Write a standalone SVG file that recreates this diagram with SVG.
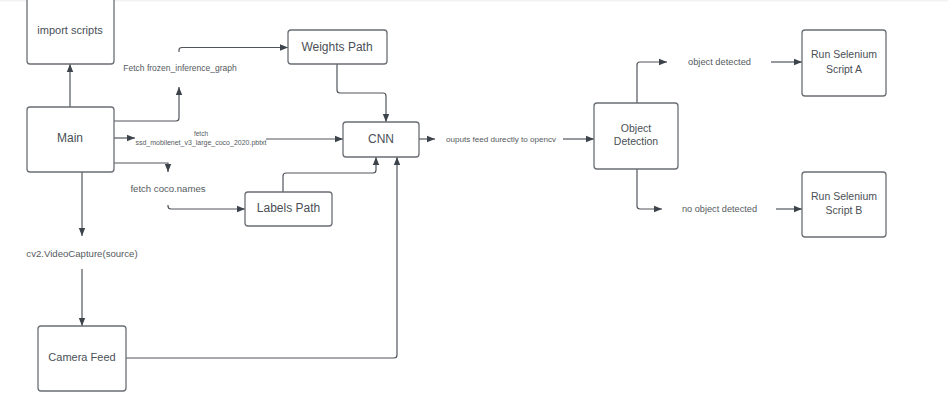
<svg xmlns="http://www.w3.org/2000/svg" width="948" height="417" viewBox="0 0 948 417">
<defs>
<marker id="ah" viewBox="0 0 10 10" refX="10" refY="5" markerWidth="8" markerHeight="8" markerUnits="userSpaceOnUse" orient="auto">
<path d="M0,1 L10,5 L0,9 Z" fill="#3d434b"/>
</marker>
<style>
.box{fill:#fff;stroke:#6a6e74;stroke-width:1.3}
.t{font-family:"Liberation Sans",Arial,sans-serif;fill:#4a4f56;text-anchor:middle;dominant-baseline:central}
.e{font-family:"Liberation Sans",Arial,sans-serif;fill:#555a60;text-anchor:middle;dominant-baseline:central}
.c{fill:none;stroke:#50555c;stroke-width:1.2}
.a{marker-end:url(#ah)}
</style>
</defs>
<rect width="948" height="417" fill="#fff"/>
<rect width="948" height="1.5" fill="#f3f3f3"/>
<g id="connectors">
<path class="c a" d="M70,107 V64"/>
<path class="c a" d="M114,121 H176 Q179,121 179,118 V87"/>
<path class="c a" d="M179,52 V50 Q179,47.5 182,47.5 H288"/>
<path class="c a" d="M337,64 V90 Q337,93 340,93 H383 Q386,93 386,96 V122"/>
<path class="c a" d="M114,138 H135"/>
<path class="c a" d="M266,139 H343"/>
<path class="c a" d="M114,163 H168 V172"/>
<path class="c a" d="M168,205 V206 Q168,209 171,209 H245"/>
<path class="c a" d="M283,192 V176 Q283,173 286,173 H373 Q376,173 376,170 V157"/>
<path class="c a" d="M126,358 H394 Q397,358 397,355 V157"/>
<path class="c a" d="M82,172 V236"/>
<path class="c a" d="M82,269 V326"/>
<path class="c a" d="M419,139 H435"/>
<path class="c a" d="M563,139 H594"/>
<path class="c a" d="M637,103 V65 Q637,62 640,62 H667"/>
<path class="c a" d="M771,62 H802"/>
<path class="c a" d="M637,169 V206 Q637,209 640,209 H662"/>
<path class="c a" d="M776,209 H802"/>
<text class="e" x="180" y="68" font-size="8.5">Fetch frozen_inference_graph</text>
<text class="e" x="201" y="133.5" font-size="6.5">fetch</text>
<text class="e" x="201" y="142.5" font-size="7">ssd_mobilenet_v3_large_coco_2020.pbtxt</text>
<text class="e" x="168" y="188" font-size="9.6">fetch coco.names</text>
<text class="e" x="82" y="253" font-size="9.6">cv2.VideoCapture(source)</text>
<text class="e" x="501" y="139" font-size="8.1">ouputs feed durectly to opencv</text>
<text class="e" x="719.5" y="62" font-size="9.3">object detected</text>
<text class="e" x="719.5" y="209" font-size="9.2">no object detected</text>
</g>
<g id="import-scripts">
<rect class="box" x="27" y="-4" width="87" height="68" rx="3"/>
<text class="t" x="70" y="30" font-size="11">import scripts</text>
</g>
<g id="main">
<rect class="box" x="27" y="107" width="87" height="65" rx="3"/>
<text class="t" x="70" y="138" font-size="12">Main</text>
</g>
<g id="weights-path">
<rect class="box" x="288" y="30" width="99" height="34" rx="3"/>
<text class="t" x="337" y="47" font-size="12">Weights Path</text>
</g>
<g id="cnn">
<rect class="box" x="343" y="122" width="76" height="35" rx="3"/>
<text class="t" x="381" y="139" font-size="12">CNN</text>
</g>
<g id="labels-path">
<rect class="box" x="245" y="192" width="87" height="34" rx="3"/>
<text class="t" x="288.5" y="208" font-size="12">Labels Path</text>
</g>
<g id="camera-feed">
<rect class="box" x="38" y="326" width="88" height="65" rx="3"/>
<text class="t" x="82" y="357" font-size="11">Camera Feed</text>
</g>
<g id="object-detection">
<rect class="box" x="594" y="103" width="84" height="66" rx="3"/>
<text class="t" x="636" y="128" font-size="10.5">Object</text>
<text class="t" x="636" y="141" font-size="10.5">Detection</text>
</g>
<g id="selenium-a">
<rect class="box" x="802" y="30" width="84" height="66" rx="3"/>
<text class="t" x="844" y="54" font-size="10.5">Run Selenium</text>
<text class="t" x="844" y="69" font-size="10.5">Script A</text>
</g>
<g id="selenium-b">
<rect class="box" x="802" y="172" width="84" height="65" rx="3"/>
<text class="t" x="844" y="196" font-size="10.5">Run Selenium</text>
<text class="t" x="844" y="210" font-size="10.5">Script B</text>
</g>
</svg>
